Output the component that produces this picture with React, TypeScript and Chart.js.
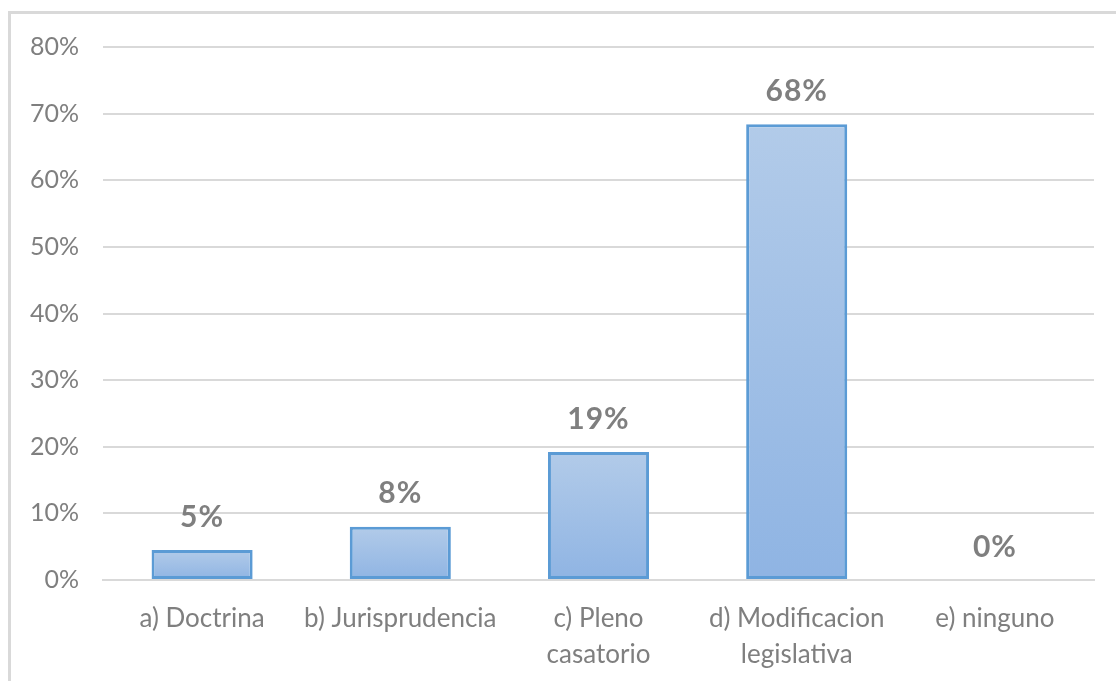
import React, { useEffect, useRef } from "react";
import { Chart, registerables } from "chart.js";

Chart.register(...registerables);

const categories: (string | string[])[] = [
  "a) Doctrina",
  "b) Jurisprudencia",
  ["c) Pleno", "casatorio"],
  ["d) Modificacion", "legislativa"],
  "e) ninguno",
];
const values: number[] = [4.5, 8, 19.2, 68.4, 0];
const yTicks: number[] = [0, 10, 20, 30, 40, 50, 60, 70, 80];

const FONT = "Lato, 'Open Sans', sans-serif";
const TEXT_GRAY = "#7f7f7f";
const GRID = "#d9d9d9";

const dataLabelPlugin = {
  id: "dataLabels",
  afterDatasetsDraw(chart: any) {
    const ctx = chart.ctx;
    const meta = chart.getDatasetMeta(0);
    ctx.save();
    ctx.font = `bold 30px ${FONT}`;
    ctx.fillStyle = TEXT_GRAY;
    ctx.textAlign = "center";
    ctx.textBaseline = "middle";
    try {
      (ctx as any).letterSpacing = "1px";
    } catch (e) {}
    meta.data.forEach((bar: any, i: number) => {
      const v = values[i];
      ctx.fillText(`${Math.round(v)}%`, bar.x, bar.y - 33);
    });
    ctx.restore();
  },
};

export default function App() {
  const ref = useRef<HTMLCanvasElement | null>(null);
  useEffect(() => {
    if (!ref.current) return;
    const chart = new Chart(ref.current, {
      type: "bar",
      data: {
        labels: categories,
        datasets: [
          {
            data: values,
            backgroundColor: (c: any) => {
              const chart = c.chart;
              if (!chart.chartArea || !chart.scales.y) return "#a3c0e6";
              const y = chart.scales.y;
              const v = values[c.dataIndex] ?? 0;
              const top = y.getPixelForValue(v);
              const base = y.getPixelForValue(0);
              if (!(base > top)) return "#a3c0e6";
              const g = chart.ctx.createLinearGradient(0, top, 0, base);
              g.addColorStop(0, "#b2cbe9");
              g.addColorStop(1, "#8fb4e3");
              return g;
            },
            borderColor: "#5b9bd5",
            borderWidth: (c: any) => ((values[c.dataIndex] ?? 0) > 0 ? 3 : 0),
            borderSkipped: false,
            categoryPercentage: 1,
            barPercentage: 0.51,
          },
        ],
      },
      options: {
        animation: false,
        responsive: false,
        maintainAspectRatio: false,
        layout: { padding: { left: 0, right: 22, top: 33, bottom: 0 } },
        plugins: {
          legend: { display: false },
          tooltip: { enabled: false },
        },
        scales: {
          x: {
            grid: { display: false, drawTicks: false },
            border: { display: true, color: GRID, width: 2 },
            ticks: {
              color: TEXT_GRAY,
              font: { family: FONT, size: 26, lineHeight: 1.4 },
              padding: 20,
              maxRotation: 0,
              autoSkip: false,
            },
            afterFit: (s: any) => {
              s.height = 101;
            },
          },
          y: {
            min: 0,
            max: 80,
            afterBuildTicks: (s: any) => {
              s.ticks = yTicks.map((v) => ({ value: v }));
            },
            grid: { color: GRID, lineWidth: 2, drawTicks: false },
            border: { display: false },
            ticks: {
              color: TEXT_GRAY,
              font: { family: FONT, size: 25 },
              padding: 24,
              callback: (v: any) => `${v}%`,
            },
            afterFit: (s: any) => {
              s.width = 92;
              s.paddingTop = 0;
              s.paddingBottom = 0;
            },
          },
        },
      },
      plugins: [dataLabelPlugin],
    });
    return () => chart.destroy();
  }, []);

  return (
    <div
      style={{
        position: "fixed",
        left: 8,
        top: 11,
        width: 1105,
        height: 667,
        borderTop: `3px solid ${GRID}`,
        borderLeft: `3px solid ${GRID}`,
        background: "#fff",
      }}
    >
      <canvas ref={ref} width={1105} height={667} style={{ display: "block" }} />
    </div>
  );
}
